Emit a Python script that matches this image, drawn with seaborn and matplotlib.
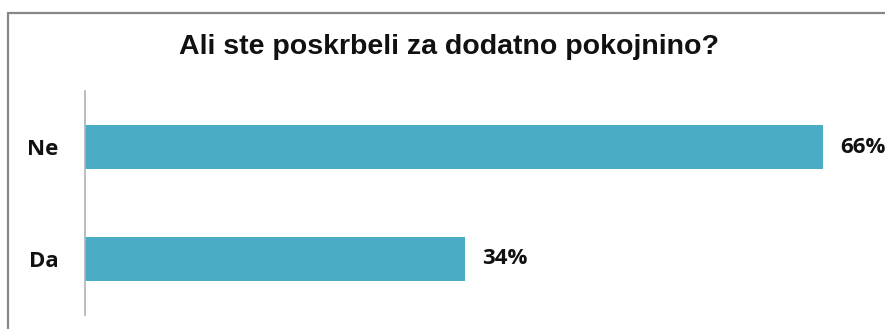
import matplotlib
matplotlib.use("Agg")
import matplotlib.pyplot as plt
import seaborn as sns
import pandas as pd
from matplotlib.patches import Rectangle

categories = ["Ne", "Da"]
values = [66, 34]
value_labels = ["66%", "34%"]
title = "Ali ste poskrbeli za dodatno pokojnino?"

W, H = 885, 329
fig = plt.figure(figsize=(W / 100, H / 100), dpi=100)
fig.patch.set_facecolor("white")

# outer frame
fig.patches.append(Rectangle((8 / W, -0.1), 1.2, (H - 13) / H + 0.1, transform=fig.transFigure,
                             fill=False, edgecolor="#878787", linewidth=1.6))

ax = fig.add_axes([85 / W, (H - 315) / H, 783 / W, 224 / H])
df = pd.DataFrame({"cat": categories, "val": values})
sns.barplot(data=df, x="val", y="cat", orient="h", color="#4BACC6", saturation=1,
            width=0.39, ax=ax)
ax.set_xlim(0, 70)
ax.set_ylim(1.5, -0.5)
ax.set_xlabel("")
ax.set_ylabel("")
ax.set_xticks([])
for s in ["top", "right", "bottom"]:
    ax.spines[s].set_visible(False)
ax.spines["left"].set_color("#B0B0B0")
ax.spines["left"].set_linewidth(1.2)
ax.tick_params(axis="y", length=0, pad=19)
for lbl in ax.get_yticklabels():
    lbl.set_fontfamily("Open Sans")
    lbl.set_fontweight("bold")
    lbl.set_fontsize(16)
    lbl.set_color("#111111")
ax.patch.set_alpha(0)

for i, (v, t) in enumerate(zip(values, value_labels)):
    ax.annotate(t, xy=(v, i), xytext=(12, 0), textcoords="offset points",
                va="center", ha="left", fontfamily="Open Sans", fontweight="bold",
                fontsize=16, color="#111111", annotation_clip=False)

fig.text(449 / W, 1 - 54 / H, title, ha="center", va="baseline",
         fontfamily="Liberation Sans", fontweight="bold", fontsize=20.5, color="#111111")

fig.savefig("out.png", dpi=100)
